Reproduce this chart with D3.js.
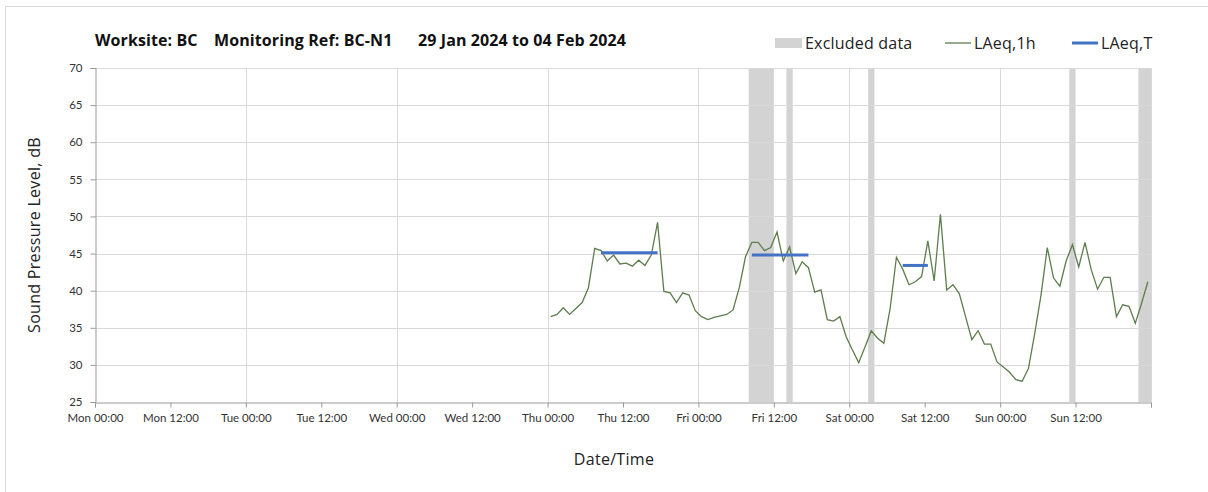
<!DOCTYPE html>
<html>
<head>
<meta charset="utf-8">
<script src="https://cdn.jsdelivr.net/npm/d3@7"></script>
<style>
  body { margin: 0; background: #fff; }
  text { font-family: Lato, "Open Sans", sans-serif; }
  .big { font-family: "Open Sans", Lato, sans-serif; }
</style>
</head>
<body>
<div id="chart"></div>
<script>
// hourly LAeq,1h values, Thu 01 Feb 00:00 -> Sun 04 Feb 23:00 (plotted at mid-hour)
let seriesStart = new Date(2024, 1, 1, 0, 30);
let laeq1h = [
  36.5, 36.8, 37.7, 36.8, 37.6, 38.4, 40.4, 45.7, 45.4, 44.0, 44.8, 43.6,
  43.7, 43.3, 44.1, 43.4, 44.8, 49.2, 39.9, 39.7, 38.4, 39.7, 39.4, 37.3,
  36.5, 36.1, 36.4, 36.6, 36.8, 37.4, 40.4, 44.6, 46.5, 46.5, 45.4, 45.8,
  47.9, 44.0, 45.9, 42.3, 43.9, 43.1, 39.8, 40.1, 36.1, 35.9, 36.5, 33.8,
  32.0, 30.3, 32.4, 34.6, 33.6, 32.9, 37.6, 44.5, 42.9, 40.8, 41.2, 41.9,
  46.7, 41.3, 50.3, 40.1, 40.8, 39.6, 36.5, 33.4, 34.6, 32.8, 32.8, 30.4,
  29.7, 29.0, 28.0, 27.8, 29.5, 34.2, 39.4, 45.8, 41.7, 40.6, 44.0, 46.2,
  43.2, 46.5, 42.8, 40.2, 41.8, 41.8, 36.5, 38.1, 37.9, 35.6, 38.3, 41.2
];

// LAeq,T period levels: [from, to, level]
let laeqT = [
  [new Date(2024, 1, 1, 8, 30), new Date(2024, 1, 1, 17, 30), 45.1],
  [new Date(2024, 1, 2, 8, 30), new Date(2024, 1, 2, 17, 30), 44.8],
  [new Date(2024, 1, 3, 8, 30), new Date(2024, 1, 3, 12, 30), 43.4]
];

// excluded data periods: [from, to]
let excluded = [
  [new Date(2024, 1, 2, 8), new Date(2024, 1, 2, 12)],
  [new Date(2024, 1, 2, 14), new Date(2024, 1, 2, 15)],
  [new Date(2024, 1, 3, 3), new Date(2024, 1, 3, 4)],
  [new Date(2024, 1, 4, 11), new Date(2024, 1, 4, 12)],
  [new Date(2024, 1, 4, 22), new Date(2024, 1, 5, 0)]
];

let yTicks = [25, 30, 35, 40, 45, 50, 55, 60, 65, 70];
let titleParts = ["Worksite: BC", "Monitoring Ref: BC-N1", "29 Jan 2024 to 04 Feb 2024"];

let W = 1208, H = 492;
let margin = {top: 68, right: 57, bottom: 90, left: 95};

let svg = d3.select("#chart").append("svg")
    .attr("width", W)
    .attr("height", H);

// outer frame
svg.append("rect")
    .attr("x", 5.5).attr("y", 6.5)
    .attr("width", 1260).attr("height", 600)
    .attr("fill", "none")
    .attr("stroke", "#d9d9d9");

let x = d3.scaleTime()
    .domain([new Date(2024, 0, 29), new Date(2024, 1, 5)])
    .range([margin.left, W - margin.right]);

let y = d3.scaleLinear()
    .domain([25, 70])
    .range([H - margin.bottom, margin.top]);

let data = laeq1h.map(function(v, i) {
    return {time: d3.timeHour.offset(seriesStart, i), value: v};
});

// excluded bands
svg.append("g").selectAll("rect")
    .data(excluded)
    .enter()
    .append("rect")
    .attr("x", function(d) { return x(d[0]); })
    .attr("width", function(d) { return x(d[1]) - x(d[0]); })
    .attr("y", y(70))
    .attr("height", y(25) - y(70))
    .attr("fill", "#d3d3d3");

// gridlines
svg.append("g").selectAll("line")
    .data(yTicks.slice(1))
    .enter()
    .append("line")
    .attr("x1", x.range()[0]).attr("x2", x.range()[1])
    .attr("y1", function(d) { return Math.round(y(d)) + 0.5; })
    .attr("y2", function(d) { return Math.round(y(d)) + 0.5; })
    .attr("stroke", "#d9d9d9");

svg.append("g").selectAll("line")
    .data(d3.timeDay.range(new Date(2024, 0, 30), new Date(2024, 1, 5, 1)))
    .enter()
    .append("line")
    .attr("x1", function(d) { return Math.round(x(d)) + 0.5; })
    .attr("x2", function(d) { return Math.round(x(d)) + 0.5; })
    .attr("y1", y(70)).attr("y2", y(25))
    .attr("stroke", "#d9d9d9");

// x axis
let xAxis = svg.append("g")
    .attr("transform", "translate(0," + (Math.round(y(25)) + 0.5) + ")")
    .call(d3.axisBottom(x)
        .ticks(d3.timeHour.every(12))
        .tickSize(5)
        .tickFormat(d3.timeFormat("%a %H:%M")));
xAxis.select(".domain").attr("stroke", "#999");
xAxis.selectAll(".tick line").attr("stroke", "#999");
xAxis.selectAll(".tick text")
    .attr("y", 11)
    .style("font-size", "11.5px")
    .attr("fill", "#333")
    .filter(function(d) { return +d === +x.domain()[1]; })
    .remove();

// y axis
let yAxis = svg.append("g")
    .attr("transform", "translate(" + (margin.left + 0.5) + ",0)")
    .call(d3.axisLeft(y)
        .tickValues(yTicks)
        .tickSize(5)
        .tickPadding(8));
yAxis.select(".domain").attr("stroke", "#999");
yAxis.selectAll(".tick line").attr("stroke", "#999");
yAxis.selectAll(".tick text")
    .style("font-size", "11.5px")
    .attr("fill", "#333");

// LAeq,1h line
let line = d3.line()
    .x(function(d) { return x(d.time); })
    .y(function(d) { return y(d.value); });

svg.append("path")
    .datum(data)
    .attr("d", line)
    .attr("fill", "none")
    .attr("stroke", "#5e7d4c")
    .attr("stroke-width", 1.3);

// LAeq,T lines
svg.append("g").selectAll("line")
    .data(laeqT)
    .enter()
    .append("line")
    .attr("x1", function(d) { return x(d[0]); })
    .attr("x2", function(d) { return x(d[1]); })
    .attr("y1", function(d) { return y(d[2]); })
    .attr("y2", function(d) { return y(d[2]); })
    .attr("stroke", "#4472c4")
    .attr("stroke-width", 3);

// title
let titleX = [95, 214, 418];
svg.selectAll("titleText")
    .data(titleParts)
    .enter()
    .append("text")
    .attr("class", "big")
    .attr("x", function(d, i) { return titleX[i]; })
    .attr("y", 46)
    .text(function(d) { return d; })
    .style("font-size", "16px")
    .style("font-weight", "bold")
    .style("letter-spacing", "0.1px")
    .attr("fill", "#111");

// legend
let legend = svg.append("g").attr("transform", "translate(0,43)");
legend.append("rect")
    .attr("x", 775).attr("y", -5)
    .attr("width", 27).attr("height", 10)
    .attr("fill", "#d3d3d3");
legend.append("text").attr("x", 805).attr("y", 5.5).text("Excluded data");
legend.append("line")
    .attr("x1", 945).attr("x2", 971).attr("y1", 0).attr("y2", 0)
    .attr("stroke", "#5e7d4c").attr("stroke-width", 1.3);
legend.append("text").attr("x", 974).attr("y", 5.5).text("LAeq,1h");
legend.append("line")
    .attr("x1", 1072).attr("x2", 1098).attr("y1", 0).attr("y2", 0)
    .attr("stroke", "#4472c4").attr("stroke-width", 3);
legend.append("text").attr("x", 1101).attr("y", 5.5).text("LAeq,T");
legend.selectAll("text")
    .attr("class", "big")
    .style("font-size", "16px")
    .style("letter-spacing", "0.2px")
    .attr("fill", "#222");

// axis titles
svg.append("text")
    .attr("class", "big")
    .attr("transform", "translate(40," + ((y(25) + y(70)) / 2) + ") rotate(-90)")
    .attr("text-anchor", "middle")
    .text("Sound Pressure Level, dB")
    .style("font-size", "16px")
    .style("letter-spacing", "0.3px")
    .attr("fill", "#222");

svg.append("text")
    .attr("class", "big")
    .attr("x", 614)
    .attr("y", 465)
    .attr("text-anchor", "middle")
    .text("Date/Time")
    .style("font-size", "16px")
    .style("letter-spacing", "0.3px")
    .attr("fill", "#222");
</script>
</body>
</html>
